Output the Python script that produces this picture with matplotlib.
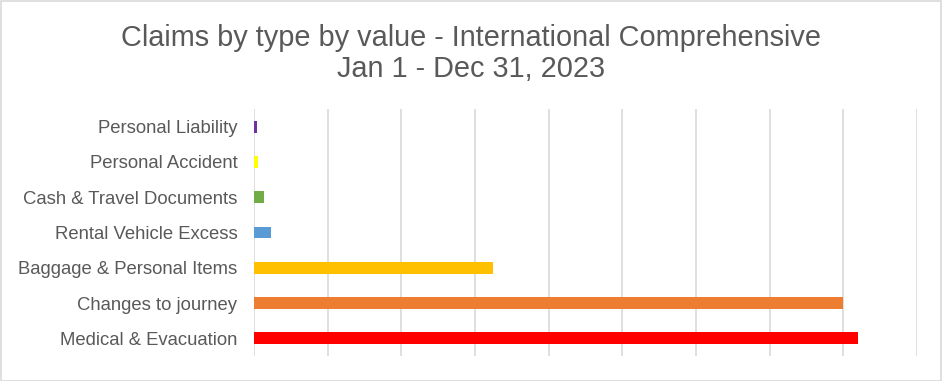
import matplotlib
matplotlib.use("Agg")
import matplotlib.pyplot as plt
from matplotlib.patches import Rectangle

categories = ["Medical & Evacuation", "Changes to journey", "Baggage & Personal Items",
              "Rental Vehicle Excess", "Cash & Travel Documents", "Personal Accident",
              "Personal Liability"]
values = [820000, 800000, 324000, 23000, 14000, 5500, 3500]
colors = ["#FF0000", "#ED7D31", "#FFC000", "#5B9BD5", "#70AD47", "#FFFF00", "#7030A0"]
title_lines = ["Claims by type by value - International Comprehensive", "Jan 1 - Dec 31, 2023"]

plt.rcParams['font.family'] = ['Liberation Sans', 'DejaVu Sans']

W, H = 942, 381
fig = plt.figure(figsize=(W / 100, H / 100), dpi=100)
fig.patch.set_facecolor("white")
fig.add_artist(Rectangle((0.5 / W, 0.5 / H), 1 - 1.5 / W, 1 - 1.5 / H, transform=fig.transFigure,
                         fill=False, edgecolor="#D9D9D9", linewidth=1.2))

left, right, top, bottom = 254, 917, 109, 356
ax = fig.add_axes([left / W, 1 - bottom / H, (right - left) / W, (bottom - top) / H])
y = list(range(len(categories)))
ax.barh(y, values, height=0.34, color=colors, zorder=3)
ax.set_xlim(0, 900000)
ax.set_ylim(-0.5, len(categories) - 0.5)
ax.set_xticks(range(0, 900001, 100000))
ax.set_xticklabels([])
ax.tick_params(axis="x", length=0)
ax.grid(axis="x", color="#D9D9D9", linewidth=1.2, zorder=0)
ax.set_yticks(y)
ax.set_yticklabels(categories, fontsize=13.3, color="#595959")
ax.tick_params(axis="y", length=0, pad=12)
for s in ax.spines.values():
    s.set_visible(False)

fig.text(0.5, 1 - 38 / H, title_lines[0], ha="center", va="center", fontsize=20.8, color="#595959")
fig.text(0.5, 1 - 69 / H, title_lines[1], ha="center", va="center", fontsize=20.8, color="#595959")

fig.savefig("out.png", dpi=100, facecolor="white")
